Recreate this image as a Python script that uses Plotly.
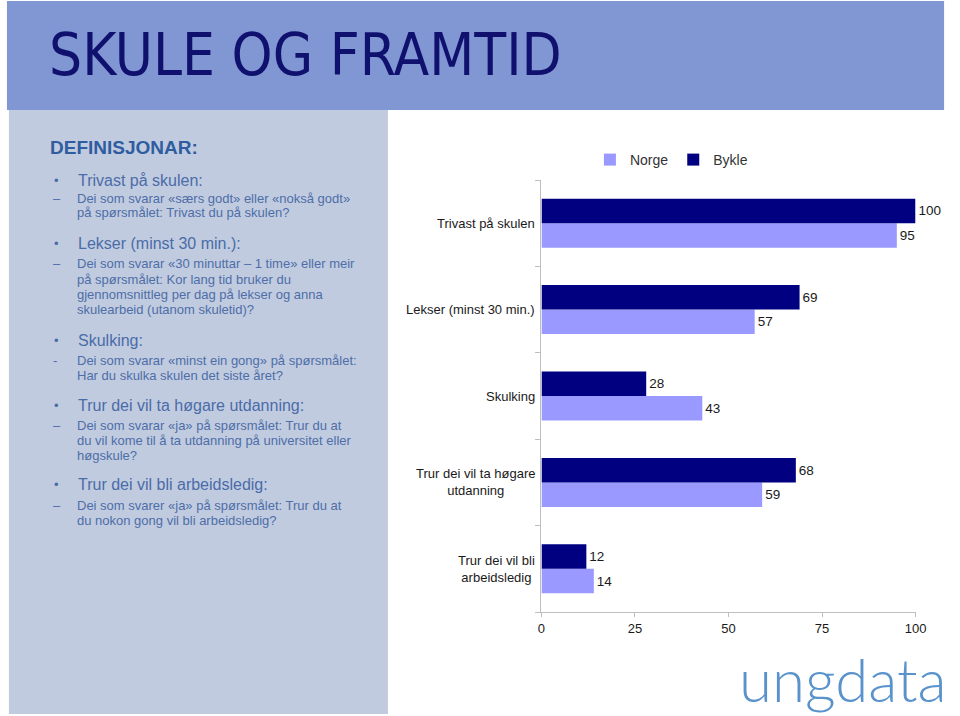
import plotly.graph_objects as go

# ---------------- data ----------------
categories = [
    "Trivast på skulen",
    "Lekser (minst 30 min.)",
    "Skulking",
    "Trur dei vil ta høgare utdanning",
    "Trur dei vil bli arbeidsledig",
]
category_labels = [
    "Trivast på skulen",
    "Lekser (minst 30 min.)",
    "Skulking",
    "Trur dei vil ta høgare<br>utdanning",
    "Trur dei vil bli<br>arbeidsledig",
]
norge = [95, 57, 43, 59, 14]
bykle = [100, 69, 28, 68, 12]
x_ticks = [0, 25, 50, 75, 100]

title_text = "SKULE OG FRAMTID"
definitions_heading = "DEFINISJONAR:"
definitions = [
    ("•", "Trivast på skulen:", "–", ["Dei som svarar «særs godt» eller «nokså godt»",
                                      "på spørsmålet: Trivast du på skulen?"]),
    ("•", "Lekser (minst 30 min.):", "–", ["Dei som svarar «30 minuttar – 1 time» eller meir",
                                           "på spørsmålet: Kor lang tid bruker du",
                                           "gjennomsnittleg per dag på lekser og anna",
                                           "skulearbeid (utanom skuletid)?"]),
    ("•", "Skulking:", "-", ["Dei som svarar «minst ein gong» på spørsmålet:",
                             "Har du skulka skulen det siste året?"]),
    ("•", "Trur dei vil ta høgare utdanning:", "–", ["Dei som svarar «ja» på spørsmålet: Trur du at",
                                                     "du vil kome til å ta utdanning på universitet eller",
                                                     "høgskule?"]),
    ("•", "Trur dei vil bli arbeidsledig:", "–", ["Dei som svarer «ja» på spørsmålet: Trur du at",
                                                  "du nokon gong vil bli arbeidsledig?"]),
]
heading_y = [180, 244, 340, 405, 484]
sub_y = [[198, 213], [264, 279, 294, 309], [360, 375], [425, 440, 455], [505, 520]]

# ---------------- layout helpers ----------------
W, H = 960, 716
def px(x):
    return x / W
def py(y):
    return 1 - y / H

FONT = "Liberation Sans, Arial, sans-serif"
NORGE_C = "#9999FF"
BYKLE_C = "#000080"

fig = go.Figure()
fig.add_trace(go.Bar(
    name="Norge", y=categories, x=norge, orientation="h",
    marker=dict(color=NORGE_C, line=dict(width=0)),
    text=[str(v) for v in norge], textposition="outside",
    textfont=dict(family=FONT, size=13.5, color="#1a1a1a"),
    cliponaxis=False, hoverinfo="skip",
))
fig.add_trace(go.Bar(
    name="Bykle", y=categories, x=bykle, orientation="h",
    marker=dict(color=BYKLE_C, line=dict(width=0)),
    text=[str(v) for v in bykle], textposition="outside",
    textfont=dict(family=FONT, size=13.5, color="#1a1a1a"),
    cliponaxis=False, hoverinfo="skip",
))

annotations = []
# category labels (centred lines, right-aligned block)
for cat, lab in zip(categories, category_labels):
    annotations.append(dict(
        x=px(541), xref="paper", y=cat, yref="y", text=lab,
        xanchor="right", yanchor="middle", align="center", showarrow=False,
        font=dict(family=FONT, size=13, color="#1a1a1a"),
    ))

# title
annotations.append(dict(
    x=px(44), y=py(55), xref="paper", yref="paper", text=title_text,
    xanchor="left", yanchor="middle", showarrow=False,
    font=dict(family="DejaVu Sans Condensed, Liberation Sans Narrow, Liberation Sans, Arial",
              size=58, color="#10106E"),
))

# definitions panel text
annotations.append(dict(
    x=px(45), y=py(147), xref="paper", yref="paper", text="<b>" + definitions_heading + "</b>",
    xanchor="left", yanchor="middle", showarrow=False,
    font=dict(family=FONT, size=19, color="#2F5D9F"),
))
HEAD_C = "#4A6CA8"
SUB_C = "#4D6EA8"
for (bul, head, dash, subs), hy, sys in zip(definitions, heading_y, sub_y):
    annotations.append(dict(x=px(49), y=py(hy), xref="paper", yref="paper", text=bul,
                            xanchor="left", yanchor="middle", showarrow=False,
                            font=dict(family=FONT, size=13, color=HEAD_C)))
    annotations.append(dict(x=px(73), y=py(hy), xref="paper", yref="paper", text=head,
                            xanchor="left", yanchor="middle", showarrow=False,
                            font=dict(family=FONT, size=16, color=HEAD_C)))
    annotations.append(dict(x=px(48), y=py(sys[0]), xref="paper", yref="paper", text=dash,
                            xanchor="left", yanchor="middle", showarrow=False,
                            font=dict(family=FONT, size=13, color=SUB_C)))
    for s, yy in zip(subs, sys):
        annotations.append(dict(x=px(73), y=py(yy), xref="paper", yref="paper", text=s,
                                xanchor="left", yanchor="middle", showarrow=False,
                                borderpad=0,
                                font=dict(family=FONT, size=13, color=SUB_C)))

# logo text
annotations.append(dict(
    x=px(960), y=py(679), xref="paper", yref="paper", text="ungdata",
    xanchor="right", yanchor="middle", showarrow=False,
    font=dict(family="Lato, Inter, sans-serif", size=60, color="#5A93CC", weight=300),
))

shapes = [
    dict(type="rect", xref="paper", yref="paper", x0=px(3), x1=px(955), y0=py(110), y1=py(1),
         fillcolor="#8197D3", line=dict(width=0), layer="below"),
    dict(type="rect", xref="paper", yref="paper", x0=px(5), x1=px(390), y0=py(714), y1=py(110),
         fillcolor="#C1CBDF", line=dict(width=0), layer="below"),
]

fig.update_layout(
    width=W, height=H,
    margin=dict(l=0, r=0, t=0, b=0),
    paper_bgcolor="white", plot_bgcolor="rgba(0,0,0,0)",
    barmode="group", bargap=0.433, bargroupgap=0,
    showlegend=True,
    legend=dict(orientation="h", x=px(678), xanchor="center", y=py(160), yanchor="middle",
                font=dict(family=FONT, size=14, color="#333333"), traceorder="normal",
                itemwidth=30, bgcolor="rgba(0,0,0,0)"),
    xaxis=dict(domain=[px(546), px(926)], range=[0, 100], tickvals=x_ticks,
               ticktext=[str(v) for v in x_ticks], showgrid=False, zeroline=False,
               showline=True, linecolor="#BFBFBF", linewidth=1, ticks="outside",
               ticklen=4, tickcolor="#BFBFBF",
               tickfont=dict(family=FONT, size=13, color="#1a1a1a"), fixedrange=True),
    yaxis=dict(domain=[py(612), py(180)], categoryorder="array",
               categoryarray=list(reversed(categories)), showticklabels=False,
               showgrid=False, zeroline=False, showline=True, linecolor="#BFBFBF",
               linewidth=1, ticks="outside", ticklen=5, tickcolor="#BFBFBF",
               tickson="boundaries", fixedrange=True),
    annotations=annotations,
    shapes=shapes,
    font=dict(family=FONT),
)

fig.write_html("out.html")
